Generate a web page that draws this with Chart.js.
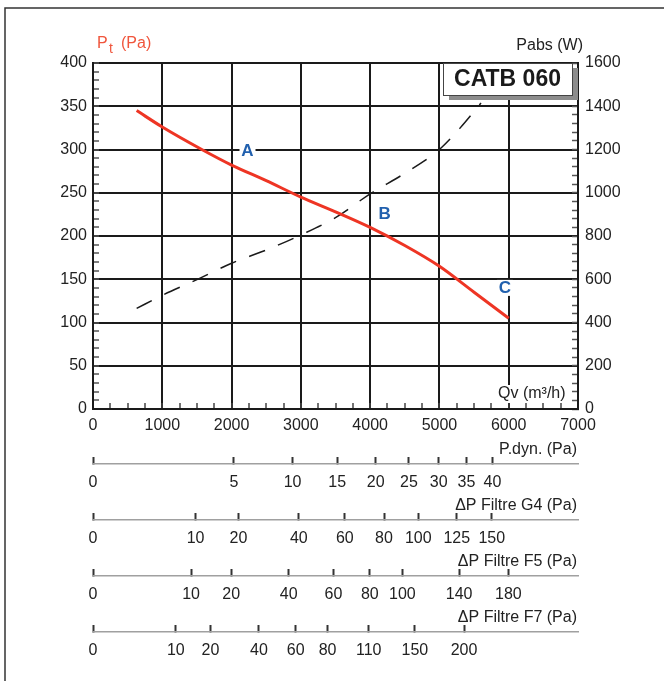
<!DOCTYPE html>
<html>
<head>
<meta charset="utf-8">
<title>CATB 060</title>
<script src="https://cdn.jsdelivr.net/npm/chart.js@4.4.1/dist/chart.umd.min.js"></script>
<style>
  body { margin: 0; background: #fff; }
  #wrap { width: 664px; height: 681px; }
</style>
</head>
<body>
<div id="wrap"><canvas id="curve" width="664" height="681"></canvas></div>
<script>
// total pressure curve (Qv m3/h -> Pa)
const ptQv = [630, 1000, 1570, 2000, 2500, 3000, 3500, 4000, 4500, 5000, 5500, 6000];
const ptPa = [345, 326, 300, 282, 264, 245, 228, 210, 189, 165, 135, 105];

// absorbed power (Qv m3/h -> W)
const pabsQv = [630, 1000, 1500, 2000, 2500, 3000, 3500, 4000, 4500, 5000, 5300, 5600];
const pabsW = [465, 526, 598, 674, 735, 805, 885, 995, 1090, 1200, 1300, 1415];

// working points
const pointNames = ['A', 'B', 'C'];
const pointQv = [2230, 4210, 5945];
const pointPa = [298, 225, 140];

// secondary scales: pressure value and the Qv it falls on
const pdynPa = [0, 5, 10, 15, 20, 25, 30, 35, 40];
const pdynQv = [0, 2035, 2880, 3525, 4080, 4560, 4990, 5390, 5765];
const g4Pa = [0, 10, 20, 40, 60, 80, 100, 125, 150];
const g4Qv = [0, 1480, 2100, 2970, 3635, 4200, 4695, 5250, 5755];
const f5Pa = [0, 10, 20, 40, 60, 80, 100, 140, 180];
const f5Qv = [0, 1415, 1995, 2825, 3470, 3995, 4465, 5285, 5995];
const f7Pa = [0, 10, 20, 40, 60, 80, 110, 150, 200];
const f7Qv = [0, 1195, 1695, 2395, 2925, 3385, 3980, 4645, 5355];

const auxTitles = ['P.dyn. (Pa)', '\u0394P Filtre G4 (Pa)', '\u0394P Filtre F5 (Pa)', '\u0394P Filtre F7 (Pa)'];

const family = 'Arial, "Liberation Sans", sans-serif';
const font = { family: family, size: 16 };
const ink = '#222';
const gridInk = '#1a1a1a';
const red = '#ee3524';

function auxScale(qv, pa, weight, height) {
    return {
        type: 'linear',
        position: 'bottom',
        min: 0,
        max: 7000,
        weight: weight,
        afterBuildTicks: s => { s.ticks = qv.map(v => ({ value: v })); },
        afterFit: s => { s.height = height; },
        grid: { drawOnChartArea: false, tickLength: -7, tickColor: '#333', tickWidth: 2 },
        border: { color: '#a0a0a0', width: 1.5 },
        ticks: { autoSkip: false, maxRotation: 0, padding: 16, color: ink, font: font,
                 callback: (v, i) => pa[i] }
    };
}

const decorations = {
    id: 'decorations',
    beforeDraw(chart) {
        const ctx = chart.ctx;
        ctx.save();
        ctx.strokeStyle = '#333';
        ctx.lineWidth = 1.5;
        ctx.beginPath();
        ctx.moveTo(5, 681);
        ctx.lineTo(5, 8);
        ctx.lineTo(664, 8);
        ctx.stroke();
        ctx.restore();
    },
    afterDraw(chart) {
        const { ctx, chartArea, scales } = chart;
        const xs = scales.x, ys = scales.y;
        ctx.save();
        ctx.textBaseline = 'middle';

        // axis titles
        ctx.fillStyle = '#f0553c';
        ctx.textAlign = 'left';
        ctx.font = '16px ' + family;
        ctx.fillText('P', chartArea.left + 4, 44);
        ctx.fillText('(Pa)', chartArea.left + 28, 44);
        ctx.font = '14px ' + family;
        ctx.fillText('t', chartArea.left + 16, 49);

        ctx.fillStyle = ink;
        ctx.font = '16px ' + family;
        ctx.textAlign = 'right';
        ctx.fillText('Pabs (W)', chartArea.right + 5, 46);

        ctx.fillStyle = '#fff';
        ctx.fillRect(chartArea.right - 82, chartArea.bottom - 24, 75, 18);
        ctx.fillStyle = ink;
        ctx.textAlign = 'left';
        ctx.fillText('Qv (m\u00b3/h)', chartArea.right - 80, chartArea.bottom - 15);

        // model box
        const bx = chartArea.right - 135, by = chartArea.top, bw = 129, bh = 32;
        ctx.fillStyle = '#8c8c8c';
        ctx.fillRect(bx + 6, by + 5, bw, bh);
        ctx.fillStyle = '#fff';
        ctx.fillRect(bx, by, bw, bh);
        ctx.strokeStyle = '#444';
        ctx.lineWidth = 1;
        ctx.strokeRect(bx + 0.5, by + 0.5, bw, bh);
        ctx.fillStyle = '#1a1a1a';
        ctx.font = 'bold 23px ' + family;
        ctx.textAlign = 'center';
        ctx.fillText('CATB 060', bx + bw / 2, by + bh / 2 + 1);

        // working point letters, on a white patch over the grid
        ctx.font = 'bold 17px ' + family;
        pointNames.forEach((n, i) => {
            const px = xs.getPixelForValue(pointQv[i]);
            const py = ys.getPixelForValue(pointPa[i]);
            ctx.fillStyle = '#fff';
            ctx.fillRect(px - 8, py - 8, 16, 16);
            ctx.fillStyle = '#2160ae';
            ctx.fillText(n, px, py);
        });

        // titles of the secondary scales
        ctx.fillStyle = ink;
        ctx.font = '16px ' + family;
        ctx.textAlign = 'right';
        ['xPdyn', 'xG4', 'xF5', 'xF7'].forEach((id, i) => {
            ctx.fillText(auxTitles[i], chartArea.right - 1, scales[id].top - 14);
        });
        ctx.restore();
    }
};

new Chart(document.getElementById('curve'), {
    type: 'line',
    data: {
        datasets: [
            {
                label: 'Pt (Pa)',
                data: ptQv.map((q, i) => ({ x: q, y: ptPa[i] })),
                xAxisID: 'x',
                yAxisID: 'y',
                borderColor: red,
                borderWidth: 3,
                pointRadius: 0,
                cubicInterpolationMode: 'monotone',
                fill: false
            },
            {
                label: 'Pabs (W)',
                data: pabsQv.map((q, i) => ({ x: q, y: pabsW[i] })),
                xAxisID: 'x',
                yAxisID: 'y1',
                borderColor: gridInk,
                borderWidth: 1.5,
                borderDash: [17, 14],
                pointRadius: 0,
                cubicInterpolationMode: 'monotone',
                fill: false
            }
        ]
    },
    options: {
        responsive: false,
        animation: false,
        layout: { padding: { top: 63, left: 0, right: 0, bottom: 0 } },
        plugins: { legend: { display: false }, tooltip: { enabled: false } },
        scales: {
            x: {
                type: 'linear',
                position: 'bottom',
                min: 0,
                max: 7000,
                weight: 0,
                afterFit: s => { s.height = 55; },
                grid: {
                    color: c => c.tick && c.tick.value % 1000 === 0 ? gridInk : 'rgba(0,0,0,0)',
                    lineWidth: 2,
                    tickLength: -6,
                    tickColor: '#444',
                    tickWidth: 1.5
                },
                border: { color: gridInk, width: 2 },
                ticks: { stepSize: 250, autoSkip: false, maxRotation: 0, padding: 13, color: ink, font: font,
                         callback: v => v % 1000 === 0 ? v : '' }
            },
            xPdyn: auxScale(pdynQv, pdynPa, 1, 56),
            xG4: auxScale(g4Qv, g4Pa, 2, 56),
            xF5: auxScale(f5Qv, f5Pa, 3, 56),
            xF7: auxScale(f7Qv, f7Pa, 4, 49),
            y: {
                type: 'linear',
                position: 'left',
                min: 0,
                max: 400,
                afterFit: s => { s.width = 93; },
                grid: {
                    color: c => c.tick && c.tick.value % 50 === 0 ? gridInk : 'rgba(0,0,0,0)',
                    lineWidth: 2,
                    tickLength: -6,
                    tickColor: '#555',
                    tickWidth: 1.5
                },
                border: { color: gridInk, width: 2 },
                ticks: { stepSize: 10, autoSkip: false, padding: 12, color: ink, font: font,
                         callback: v => v % 50 === 0 ? v : '' }
            },
            y1: {
                type: 'linear',
                position: 'right',
                min: 0,
                max: 1600,
                afterFit: s => { s.width = 86; },
                grid: { drawOnChartArea: false, tickLength: -6, tickColor: '#555', tickWidth: 1.5 },
                border: { color: gridInk, width: 2 },
                ticks: { stepSize: 40, autoSkip: false, padding: 13, color: ink, font: font,
                         callback: v => v % 200 === 0 ? v : '' }
            }
        }
    },
    plugins: [decorations]
});
</script>
</body>
</html>
